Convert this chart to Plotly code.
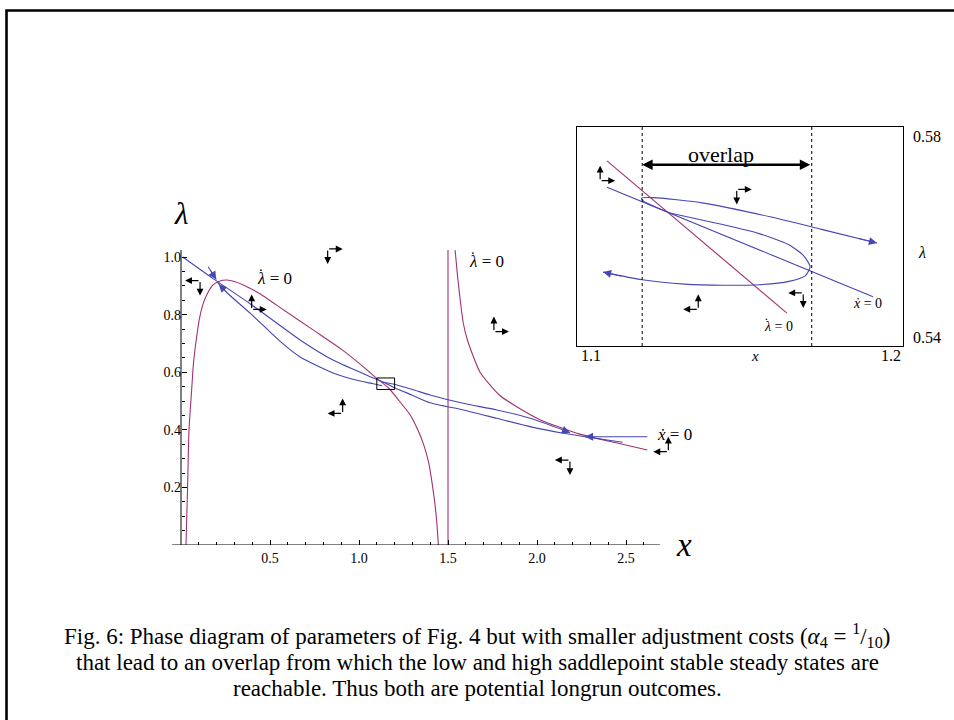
import plotly.graph_objects as go

# ---------------- data (main phase diagram) ----------------
# lambda-dot = 0 locus, left branch (rises, peaks, falls)
lamdot_left_x = [0.028, 0.037, 0.045, 0.06, 0.07, 0.088, 0.105, 0.125, 0.15, 0.18, 0.215, 0.257, 0.30, 0.35,
                 0.45, 0.537, 0.742, 0.90, 1.045, 1.10, 1.165, 1.22, 1.287, 1.33, 1.361, 1.39, 1.408,
                 1.425, 1.436, 1.446]
lamdot_left_y = [0.0, 0.2, 0.4, 0.54, 0.63, 0.723, 0.79, 0.839, 0.875, 0.903, 0.916, 0.920, 0.915, 0.903,
                 0.87, 0.833, 0.747, 0.68, 0.608, 0.578, 0.546, 0.505, 0.452, 0.40, 0.353, 0.29, 0.226,
                 0.15, 0.087, 0.0]
# lambda-dot = 0 locus, right branch
lamdot_right_x = [1.54, 1.556, 1.586, 1.61, 1.68, 1.79, 1.886, 2.02, 2.24, 2.45, 2.62]
lamdot_right_y = [1.024, 0.92, 0.77, 0.71, 0.60, 0.52, 0.48, 0.434, 0.385, 0.354, 0.33]
# vertical asymptote
asym_x = [1.5, 1.5]
asym_y = [0.0, 1.024]
# x-dot = 0 locus
xdot_x = [0.01, 0.18, 0.39, 0.669, 0.854, 1.08, 1.15, 1.19, 1.30, 1.399, 1.586, 1.774, 1.961, 2.148, 2.27, 2.481]
xdot_y = [1.0, 0.925, 0.837, 0.712, 0.642, 0.58, 0.562, 0.549, 0.52, 0.494, 0.469, 0.44, 0.411, 0.388, 0.376, 0.357]
# trajectory towards low steady state
trajB_x = [0.205, 0.26, 0.39, 0.57, 0.669, 0.854, 1.0, 1.08, 1.13]
trajB_y = [0.912, 0.875, 0.804, 0.70, 0.653, 0.597, 0.57, 0.56, 0.553]
# trajectory towards high steady state
trajA_x = [1.13, 1.192, 1.30, 1.399, 1.586, 1.774, 1.961, 2.148, 2.185]
trajA_y = [0.566, 0.5588, 0.54, 0.521, 0.492, 0.469, 0.44, 0.399, 0.39]
# incoming stable branches
inL_x = [0.153, 0.198]
inL_y = [0.966, 0.922]
inR_x = [2.62, 2.27]
inR_y = [0.376, 0.376]

# arrowheads on trajectories in main plot: (head x, head y, tail x, tail y)
main_heads = [
    (0.198, 0.922, 0.160, 0.959),
    (0.212, 0.905, 0.260, 0.875),
    (2.185, 0.390, 2.140, 0.401),
    (2.270, 0.376, 2.330, 0.376),
]

# ---------------- data (inset) ----------------
in_lam_x = [1.1092, 1.1644]
in_lam_y = [0.5738, 0.546]
in_xdot_x = [1.1092, 1.1285, 1.1908]
in_xdot_y = [0.569, 0.5643, 0.549]
in_trajA_x = [1.1285, 1.1244, 1.1205, 1.1198, 1.1234, 1.1388, 1.1592, 1.175, 1.192]
in_trajA_y = [0.5643, 0.5653, 0.5664, 0.5670, 0.5671, 0.5661, 0.5636, 0.5613, 0.5588]
in_trajB_x = [1.1285, 1.14, 1.155, 1.165, 1.1695, 1.1715, 1.170, 1.165, 1.156, 1.145, 1.133, 1.12, 1.108]
in_trajB_y = [0.5643, 0.5628, 0.5607, 0.5585, 0.5565, 0.5545, 0.5528, 0.5518, 0.5512, 0.5511, 0.5513, 0.5521, 0.5535]
inset_heads = [
    (1.192, 0.5588, 1.186, 0.5597),
    (1.108, 0.5535, 1.114, 0.5527),
]
overlap_bounds = [1.12, 1.172]
overlap_lam = 0.5731

# direction indicators: corner x, corner y, horizontal dir, vertical dir
main_ind_x = [0.107, 0.397, 0.824, 0.908, 1.758, 2.185, 2.738]
main_ind_y = [0.918, 0.818, 1.028, 0.457, 0.741, 0.295, 0.324]
main_ind_h = [-1, 1, 1, -1, 1, -1, -1]
main_ind_v = [-1, 1, -1, 1, 1, -1, 1]
inset_ind_x = [1.1071, 1.149, 1.1372, 1.1694]
inset_ind_y = [0.5702, 0.5686, 0.5467, 0.5497]
inset_ind_h = [1, 1, -1, -1]
inset_ind_v = [1, -1, 1, -1]

# ticks
x_tickvals = [0.5, 1.0, 1.5, 2.0, 2.5]
x_ticktext = ["0.5", "1.0", "1.5", "2.0", "2.5"]
x_minorvals = [0.1, 0.2, 0.3, 0.4, 0.6, 0.7, 0.8, 0.9, 1.1, 1.2, 1.3, 1.4, 1.6, 1.7, 1.8, 1.9,
               2.1, 2.2, 2.3, 2.4, 2.6]
y_tickvals = [0.2, 0.4, 0.6, 0.8, 1.0]
y_ticktext = ["0.2", "0.4", "0.6", "0.8", "1.0"]
y_minorvals = [0.05, 0.1, 0.15, 0.25, 0.3, 0.35, 0.45, 0.5, 0.55, 0.65, 0.7, 0.75, 0.85, 0.9, 0.95]
inset_xlabels = ["1.1", "1.2"]
inset_ylabels = ["0.58", "0.54"]

caption_lines = [
    "Fig. 6: Phase diagram of parameters of Fig. 4 but with smaller adjustment costs "
    "(<i>α</i><sub>4</sub> = <sup>1</sup>/<sub>10</sub>)",
    "that lead to an overlap from which the low and high saddlepoint stable steady states are",
    "reachable. Thus both are potential longrun outcomes.",
]

# ---------------- styling ----------------
MAG = "#A3306F"
BLU = "#4646B4"
FONT = "Liberation Serif"
W, H = 954, 720

fig = go.Figure()

def line(x, y, color, xa="x", ya="y", w=1.1, shape="spline"):
    fig.add_trace(go.Scatter(x=x, y=y, mode="lines", xaxis=xa, yaxis=ya,
                             line=dict(color=color, width=w, shape=shape, smoothing=0.6),
                             hoverinfo="skip", showlegend=False))

line(lamdot_left_x, lamdot_left_y, MAG)
line(lamdot_right_x, lamdot_right_y, MAG)
line(asym_x, asym_y, MAG, shape="linear")
line(xdot_x, xdot_y, BLU)
line(trajB_x, trajB_y, BLU)
line(trajA_x, trajA_y, BLU)
line(inL_x, inL_y, BLU, shape="linear")
line(inR_x, inR_y, BLU, shape="linear")

line(in_lam_x, in_lam_y, MAG, "x2", "y2", shape="linear")
line(in_xdot_x, in_xdot_y, BLU, "x2", "y2", shape="linear")
line(in_trajA_x, in_trajA_y, BLU, "x2", "y2")
line(in_trajB_x, in_trajB_y, BLU, "x2", "y2")

# arrowheads on trajectories
for (hx, hy, tx, ty) in main_heads:
    fig.add_annotation(x=hx, y=hy, ax=tx, ay=ty, xref="x", yref="y", axref="x", ayref="y",
                       showarrow=True, arrowhead=2, arrowsize=1.6, arrowwidth=1, arrowcolor=BLU, text="")
for (hx, hy, tx, ty) in inset_heads:
    fig.add_annotation(x=hx, y=hy, ax=tx, ay=ty, xref="x2", yref="y2", axref="x2", ayref="y2",
                       showarrow=True, arrowhead=2, arrowsize=1.6, arrowwidth=1, arrowcolor=BLU, text="")

# direction indicators
def indicators(xs, ys, hs, vs, xr, yr, dx, dy):
    for xc, yc, h, v in zip(xs, ys, hs, vs):
        for hx, hy in [(xc + h * dx, yc), (xc, yc + v * dy)]:
            fig.add_annotation(x=hx, y=hy, ax=xc, ay=yc, xref=xr, yref=yr, axref=xr, ayref=yr,
                               showarrow=True, arrowhead=2, arrowsize=1.15, arrowwidth=1.2,
                               arrowcolor="black", text="")

indicators(main_ind_x, main_ind_y, main_ind_h, main_ind_v, "x", "y", 15 / 178, 15 / 288)
indicators(inset_ind_x, inset_ind_y, inset_ind_h, inset_ind_v, "x2", "y2", 15 / 3260, 15 / 5475)

# overlap arrow
fig.add_annotation(x=overlap_bounds[0], y=overlap_lam, ax=overlap_bounds[1], ay=overlap_lam,
                   xref="x2", yref="y2", axref="x2", ayref="y2", showarrow=True, arrowhead=2,
                   arrowside="end+start", arrowsize=0.8, arrowwidth=2.6, arrowcolor="black", text="")
fig.add_annotation(x=1.1442, y=0.5749, xref="x2", yref="y2", text="overlap", showarrow=False,
                   xanchor="center", yanchor="middle",
                   font=dict(family=FONT, size=22, color="black"))

# text labels (lambda-dot built from a lambda plus a dot accent)
def lamdot_label(x, y, xr, yr, size, dot_dx, dot_dy):
    fig.add_annotation(x=x, y=y, xref=xr, yref=yr, text="<i>λ</i> = 0", showarrow=False,
                       xanchor="left", yanchor="middle", font=dict(family=FONT, size=size, color="black"))
    fig.add_annotation(x=x, y=y, xref=xr, yref=yr, text="˙", showarrow=False,
                       xanchor="center", yanchor="middle", xshift=dot_dx, yshift=dot_dy,
                       font=dict(family=FONT, size=size, color="black"))

lamdot_label(0.416, 0.924, "x", "y", 17, 6, 4)
lamdot_label(1.607, 0.983, "x", "y", 17, 6, 4)
lamdot_label(1.1567, 0.5435, "x2", "y2", 14, 5, 3)
fig.add_annotation(x=2.775, y=0.385, xref="x", yref="y", text="<i>ẋ</i> = 0", showarrow=False,
                   xanchor="center", yanchor="middle", font=dict(family=FONT, size=17, color="black"))
fig.add_annotation(x=1.189, y=0.5477, xref="x2", yref="y2", text="<i>ẋ</i> = 0", showarrow=False,
                   xanchor="center", yanchor="middle", font=dict(family=FONT, size=14, color="black"))

# axis titles
fig.add_annotation(x=181 / W, y=1 - 213 / H, xref="paper", yref="paper", text="<i>λ</i>",
                   xanchor="center", yanchor="middle",
                   showarrow=False, font=dict(family=FONT, size=31, color="black"))
fig.add_annotation(x=684 / W, y=1 - 545 / H, xref="paper", yref="paper", text="<i>x</i>",
                   xanchor="center", yanchor="middle",
                   showarrow=False, font=dict(family=FONT, size=33, color="black"))

# inset frame labels
tl = dict(showarrow=False, font=dict(family=FONT, size=16, color="black"))
fig.add_annotation(x=1.1, y=1 - 355 / H, xref="x2", yref="paper", xanchor="left", yanchor="middle",
                   xshift=2, text=inset_xlabels[0], **tl)
fig.add_annotation(x=1.2, y=1 - 355 / H, xref="x2", yref="paper", xanchor="right", yanchor="middle",
                   text=inset_xlabels[1], **tl)
fig.add_annotation(x=911 / W, y=0.5782, xref="paper", yref="y2", xanchor="left", yanchor="middle",
                   text=inset_ylabels[0], **tl)
fig.add_annotation(x=911 / W, y=0.5416, xref="paper", yref="y2", xanchor="left", yanchor="middle",
                   text=inset_ylabels[1], **tl)
fig.add_annotation(x=922 / W, y=0.557, xref="paper", yref="y2", xanchor="center", yanchor="middle",
                   text="<i>λ</i>", **tl)
fig.add_annotation(x=1.1546, y=1 - 356 / H, xref="x2", yref="paper", text="<i>x</i>",
                   xanchor="center", yanchor="middle",
                   showarrow=False, font=dict(family=FONT, size=15, color="black"))

# caption, one annotation per line
for txt, ypx in zip(caption_lines, [635, 662, 688]):
    fig.add_annotation(x=0.5, y=1 - ypx / H, xref="paper", yref="paper", text=txt, showarrow=False,
                       xanchor="center", yanchor="middle",
                       font=dict(family=FONT, size=23, color="black"))

# shapes: axes lines, zoom box, dashed lines, slide border
fig.add_shape(type="line", x0=-0.05, x1=2.69, y0=0, y1=0, xref="x", yref="y",
              line=dict(color="black", width=1))
fig.add_shape(type="line", x0=0, x1=0, y0=0, y1=1.024, xref="x", yref="y",
              line=dict(color="black", width=1))
fig.add_shape(type="rect", x0=1.1, x1=1.2, y0=0.54, y1=0.58, xref="x", yref="y",
              line=dict(color="black", width=1))
for xv in overlap_bounds:
    fig.add_shape(type="line", x0=xv, x1=xv, y0=0.54, y1=0.58, xref="x2", yref="y2",
                  line=dict(color="black", width=1, dash="3px,3px"))
fig.add_shape(type="rect", x0=6.5 / W, x1=1.05, y0=-0.05, y1=1 - 10.5 / H, xref="paper", yref="paper",
              line=dict(color="black", width=2.6))

ax_common = dict(showgrid=False, zeroline=False, showline=False)
fig.update_layout(
    width=W, height=H, margin=dict(l=0, r=0, t=0, b=0),
    paper_bgcolor="white", plot_bgcolor="rgba(0,0,0,0)",
    font=dict(family=FONT, size=14, color="black"),
    showlegend=False,
    xaxis=dict(domain=[172.1 / W, 688.3 / W], range=[-0.05, 2.85], anchor="y",
               tickmode="array", tickvals=x_tickvals, ticktext=x_ticktext,
               ticks="inside", ticklen=5, tickwidth=1, tickcolor="black", ticklabelstandoff=3,
               minor=dict(tickmode="array", tickvals=x_minorvals, ticks="inside", ticklen=3,
                          tickwidth=1, tickcolor="black"),
               tickfont=dict(family=FONT, size=14, color="black"), automargin=False, **ax_common),
    yaxis=dict(domain=[(H - 545) / H, (H - 545 + 1.06 * 288) / H], range=[0, 1.06],
               anchor="free", position=181 / W,
               tickmode="array", tickvals=y_tickvals, ticktext=y_ticktext,
               ticks="inside", ticklen=5, tickwidth=1, tickcolor="black",
               minor=dict(tickmode="array", tickvals=y_minorvals, ticks="inside", ticklen=3,
                          tickwidth=1, tickcolor="black"),
               tickfont=dict(family=FONT, size=14, color="black"), automargin=False, **ax_common),
    xaxis2=dict(domain=[577 / W, 903 / W], range=[1.1, 1.2], anchor="y2",
                showgrid=False, zeroline=False, showline=True, mirror=True, linecolor="black",
                linewidth=1, showticklabels=False, ticks=""),
    yaxis2=dict(domain=[(H - 346) / H, (H - 127) / H], range=[0.54, 0.58], anchor="x2",
                showgrid=False, zeroline=False, showline=True, mirror=True, linecolor="black",
                linewidth=1, showticklabels=False, ticks=""),
)

fig.write_html("out.html")
